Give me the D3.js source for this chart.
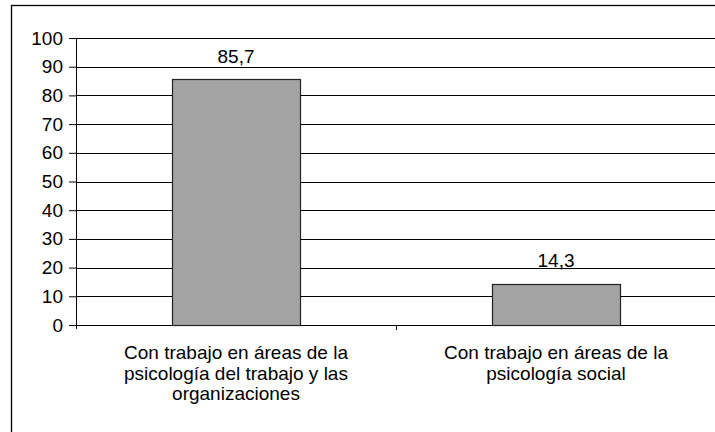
<!DOCTYPE html>
<html>
<head>
<meta charset="utf-8">
<script src="https://d3js.org/d3.v7.min.js"></script>
<style>
body { margin: 0; padding: 0; background: white; }
svg text { font-family: Arial, "Liberation Sans", sans-serif; fill: #000; }
</style>
</head>
<body>
<svg id="chart" width="715" height="432"></svg>
<script>
// data
var categories = [
  ["Con trabajo en áreas de la", "psicología del trabajo y las", "organizaciones"],
  ["Con trabajo en áreas de la", "psicología social"]
];
var values = [85.7, 14.3];
var valueLabels = ["85,7", "14,3"];
var yTicks = [0, 10, 20, 30, 40, 50, 60, 70, 80, 90, 100];

var margin = {top: 38, left: 76, right: -1, bottom: 107},
    W = 715, H = 432,
    width = W - margin.left - margin.right,
    height = H - margin.top - margin.bottom;

var fs = "19px";

var svg = d3.select("#chart");

// outer frame
svg.append("rect")
  .attr("x", 11.5).attr("y", 5.5)
  .attr("width", 720).attr("height", 440)
  .attr("fill", "none").attr("stroke", "#000").attr("stroke-width", 1.3);

var g = svg.append("g").attr("transform", "translate(" + margin.left + "," + margin.top + ")");

var x = d3.scaleBand().domain(d3.range(values.length)).range([0, width]).paddingInner(0).paddingOuter(0);
var y = d3.scaleLinear().domain([0, 100]).range([height, 0]);

// grid
g.selectAll(".grid").data(yTicks).enter().append("line")
  .attr("x1", 0).attr("x2", width)
  .attr("y1", function(d) { return Math.round(y(d)) + 0.5; })
  .attr("y2", function(d) { return Math.round(y(d)) + 0.5; })
  .attr("stroke", "#000").attr("stroke-width", 1);

// y axis
var yAxis = d3.axisLeft(y).tickValues(yTicks).tickSize(7).tickPadding(6);
var gy = g.append("g").call(yAxis);
gy.select(".domain").remove();
gy.append("line").attr("x1", 0.5).attr("x2", 0.5).attr("y1", 0).attr("y2", height + 4).attr("stroke", "#000");
gy.selectAll(".tick line").attr("stroke", "#000");
gy.selectAll(".tick text").style("font-size", fs).attr("fill", "#000");

// category divider ticks
g.selectAll(".ctick").data(d3.range(1, values.length)).enter().append("line")
  .attr("x1", function(d) { return Math.round(x(d)) + 0.5; })
  .attr("x2", function(d) { return Math.round(x(d)) + 0.5; })
  .attr("y1", height).attr("y2", height + 5)
  .attr("stroke", "#000");

// bars
var bw = x.bandwidth() * 0.4;
g.selectAll(".bar").data(values).enter().append("rect")
  .attr("x", function(d, i) { return Math.round(x(i) + (x.bandwidth() - bw) / 2) + 0.5; })
  .attr("y", function(d) { return Math.round(y(d)) + 0.5; })
  .attr("width", bw)
  .attr("height", function(d) { return height - Math.round(y(d)); })
  .attr("fill", "#a3a3a3").attr("stroke", "#222").attr("stroke-width", 1.2);

// value labels
g.selectAll(".val").data(values).enter().append("text")
  .attr("x", function(d, i) { return x(i) + x.bandwidth() / 2; })
  .attr("y", function(d) { return y(d) - 16.5; })
  .attr("text-anchor", "middle")
  .style("font-size", fs)
  .text(function(d, i) { return valueLabels[i]; });

// category labels
categories.forEach(function(lines, i) {
  var t = g.append("text")
    .attr("x", x(i) + x.bandwidth() / 2)
    .attr("y", height + 34)
    .attr("text-anchor", "middle")
    .style("font-size", fs);
  lines.forEach(function(l, k) {
    t.append("tspan").attr("x", x(i) + x.bandwidth() / 2).attr("dy", k ? 20.5 : 0).text(l);
  });
});
</script>
</body>
</html>
